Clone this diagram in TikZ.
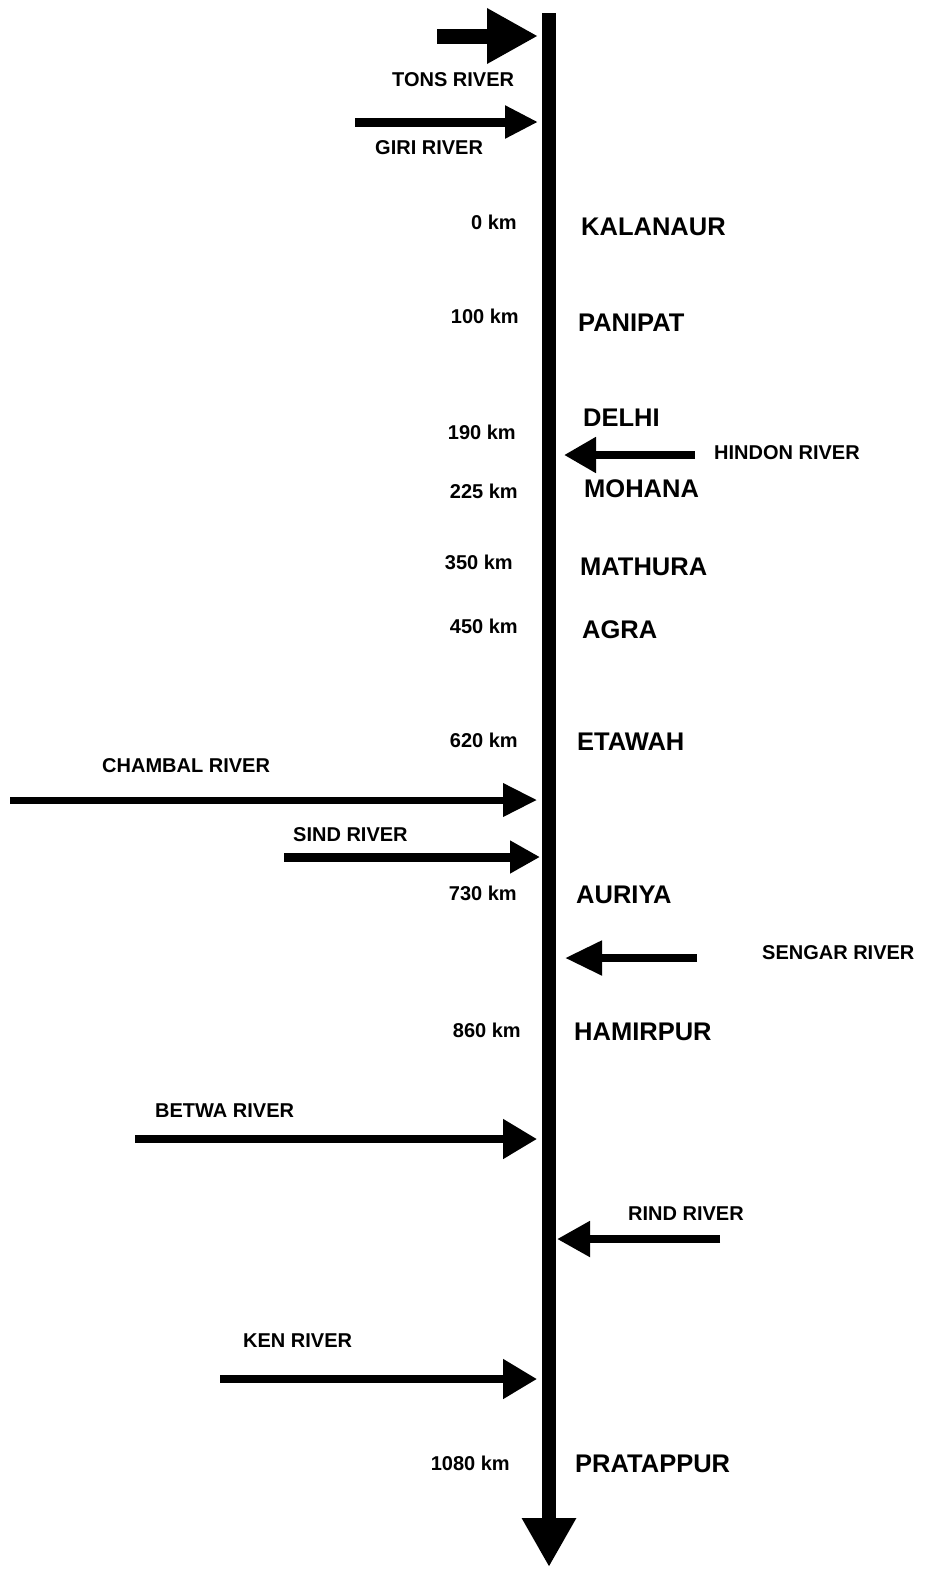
\documentclass[tikz,border=0pt]{standalone}
\usepackage{fontspec}
\setmainfont{Liberation Sans}
\usetikzlibrary{arrows.meta}
\tikzset{
  km/.style={anchor=east, inner sep=0pt, font=\fontsize{20}{24}\selectfont\bfseries},
  city/.style={anchor=west, inner sep=0pt, font=\fontsize{25.5}{30}\selectfont\bfseries},
  rlabel/.style={anchor=west, inner sep=0pt, font=\fontsize{20}{24}\selectfont\bfseries},
  trib/.style={line width=#1},
  trib/.default=8pt,
  head/.style 2 args={-{Triangle[length=#1, width=#2]}}
}
\begin{document}
\begin{tikzpicture}[x=1pt, y=-1pt]
\useasboundingbox (0,0) rectangle (926,1569);
% main river
\coordinate (top) at (549,13);
\coordinate (bottom) at (549,1567);
\draw[line width=14pt, head={49pt}{51pt}] (top) -- (bottom);

% tributaries
\coordinate (tonsS) at (437,36);   \coordinate (tonsE) at (538,36);
\draw[trib=15pt, head={51pt}{52pt}] (tonsS) -- (tonsE);
\coordinate (giriS) at (355,122);  \coordinate (giriE) at (538,122);
\draw[trib=9pt, head={33pt}{31pt}] (giriS) -- (giriE);
\coordinate (hindS) at (695,455);  \coordinate (hindE) at (564,455);
\draw[trib=8pt, head={32pt}{34pt}] (hindS) -- (hindE);
\coordinate (chamS) at (10,800);   \coordinate (chamE) at (537,800);
\draw[trib=7pt, head={34pt}{32pt}] (chamS) -- (chamE);
\coordinate (sindS) at (284,857);  \coordinate (sindE) at (540,857);
\draw[trib=9pt, head={30pt}{31pt}] (sindS) -- (sindE);
\coordinate (sengS) at (697,958);  \coordinate (sengE) at (565,958);
\draw[trib=8pt, head={37pt}{33pt}] (sengS) -- (sengE);
\coordinate (betS) at (135,1139);  \coordinate (betE) at (537,1139);
\draw[trib=8pt, head={34pt}{38pt}] (betS) -- (betE);
\coordinate (rindS) at (720,1239); \coordinate (rindE) at (557,1239);
\draw[trib=8pt, head={33pt}{34pt}] (rindS) -- (rindE);
\coordinate (kenS) at (220,1379);  \coordinate (kenE) at (537,1379);
\draw[trib=8pt, head={34pt}{38pt}] (kenS) -- (kenE);

% river labels
\node[rlabel] (tonsL) at (392,80) {TONS RIVER};
\node[rlabel] (giriL) at (375,148) {GIRI RIVER};
\node[rlabel] (hindL) at (714,453) {HINDON RIVER};
\node[rlabel] (chamL) at (102,766) {CHAMBAL RIVER};
\node[rlabel] (sindL) at (293,835) {SIND RIVER};
\node[rlabel] (sengL) at (762,953) {SENGAR RIVER};
\node[rlabel] (betL) at (155,1111) {BETWA RIVER};
\node[rlabel] (rindL) at (628,1214) {RIND RIVER};
\node[rlabel] (kenL) at (243,1341) {KEN RIVER};

% distances
\node[km] (k0) at (517,222) {0 km};
\node[km] (k100) at (519,316) {100 km};
\node[km] (k190) at (516,432) {190 km};
\node[km] (k225) at (518,491) {225 km};
\node[km] (k350) at (513,562) {350 km};
\node[km] (k450) at (518,626) {450 km};
\node[km] (k620) at (518,740) {620 km};
\node[km] (k730) at (517,893) {730 km};
\node[km] (k860) at (521,1030) {860 km};
\node[km] (k1080) at (510,1463) {1080 km};

% places
\node[city] (kal) at (581,227) {KALANAUR};
\node[city] (pan) at (578,323) {PANIPAT};
\node[city] (del) at (583,418) {DELHI};
\node[city] (moh) at (584,489) {MOHANA};
\node[city] (mat) at (580,567) {MATHURA};
\node[city] (agr) at (582,630) {AGRA};
\node[city] (eta) at (577,742) {ETAWAH};
\node[city] (aur) at (576,895) {AURIYA};
\node[city] (ham) at (574,1032) {HAMIRPUR};
\node[city] (pra) at (575,1464) {PRATAPPUR};
\end{tikzpicture}
\end{document}
